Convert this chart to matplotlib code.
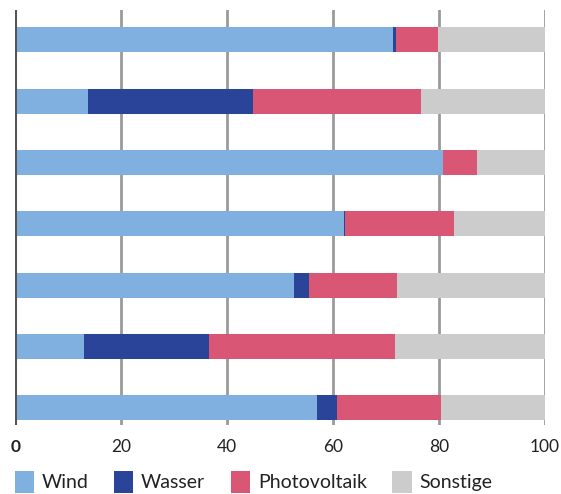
import numpy as np
import matplotlib
matplotlib.use("Agg")
import matplotlib.pyplot as plt

plt.rcParams['font.family'] = ['Lato', 'DejaVu Sans']

# shares in percent, one row per bar (top to bottom)
wind = [71.3, 13.7, 80.7, 62.0, 52.6, 12.9, 56.9]
wasser = [0.5, 31.1, 0.0, 0.3, 2.8, 23.6, 3.8]
photovoltaik = [7.9, 31.7, 6.4, 20.6, 16.6, 35.1, 19.6]
sonstige = [100 - w - h - p for w, h, p in zip(wind, wasser, photovoltaik)]

series = [("Wind", wind, "#80b0e0"),
          ("Wasser", wasser, "#2a4499"),
          ("Photovoltaik", photovoltaik, "#d95775"),
          ("Sonstige", sonstige, "#cccccc")]
xticks = [0, 20, 40, 60, 80, 100]

fig = plt.figure(figsize=(5.61, 4.94), dpi=100)
ax = fig.add_axes([0.0276, 0.14, 0.9439, 0.84])

y = np.arange(len(wind))
left = np.zeros(len(wind))
for name, vals, col in series:
    ax.barh(y, vals, left=left, height=0.41, color=col, label=name, zorder=3)
    left += np.array(vals)

ax.set_xlim(0, 100)
ax.set_ylim(len(wind) - 1 + 0.28, -0.49)
ax.set_xticks(xticks)
ax.set_xticklabels([str(t) for t in xticks], fontsize=12.5, color="#222222")
ax.get_xticklabels()[0].set_fontweight("bold")
ax.tick_params(axis="x", length=0, pad=10)
ax.set_yticks([])
for t in xticks[1:]:
    ax.axvline(t, color="#9a9a9a", lw=2, zorder=1)
ax.axvline(0, color="#555555", lw=2.2, zorder=4)
for s in ax.spines.values():
    s.set_visible(False)

leg = fig.legend(loc="lower left", bbox_to_anchor=(0.026, 0.003), ncol=4, frameon=False,
                 fontsize=14, handlelength=1.0, handleheight=1.35, handletextpad=0.4,
                 columnspacing=1.3, borderaxespad=0, borderpad=0)
for txt in leg.get_texts():
    txt.set_color("#222222")

fig.savefig("out.png", dpi=100)
